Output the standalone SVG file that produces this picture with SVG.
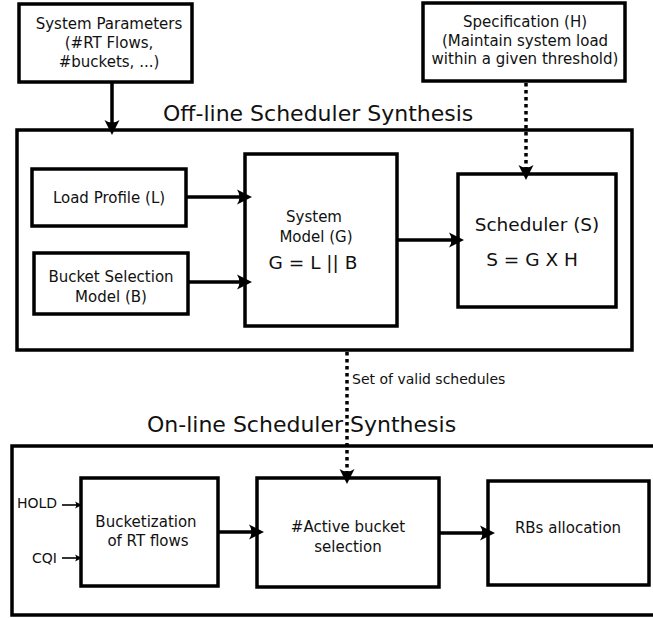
<svg xmlns="http://www.w3.org/2000/svg" width="653" height="618" viewBox="0 0 653 618">
  <style>
    .box { fill: #fff; stroke: #000; stroke-width: 3.5; }
    .frame { fill: none; stroke: #000; stroke-width: 3.5; }
    .t { font-family: "DejaVu Sans", sans-serif; font-size: 15px; fill: #111; text-anchor: middle; }
    .big { font-size: 18.5px; }
    .title { font-family: "DejaVu Sans", sans-serif; font-size: 22px; fill: #111; }
    .in { font-family: "DejaVu Sans", sans-serif; font-size: 14px; fill: #111; }
    .wire { fill: none; stroke: #000; stroke-width: 3.5; }
    .dot { fill: none; stroke: #000; stroke-width: 3.5; stroke-dasharray: 3.5 3.5; }
    .thin { fill: none; stroke: #000; stroke-width: 1.6; }
  </style>
  <defs>
    <marker id="head" markerUnits="userSpaceOnUse" orient="auto" viewBox="-16 -9 18 18" markerWidth="18" markerHeight="18" refX="-7" refY="0">
      <path d="M0,0 L-15,-7.5 Q-10,0 -15,7.5 Z" fill="#000"/>
    </marker>
    <marker id="small" markerUnits="userSpaceOnUse" orient="auto" viewBox="-8 -5 10 10" markerWidth="10" markerHeight="10" refX="-2" refY="0">
      <path d="M0,0 L-7,-3.5 Q-4.5,0 -7,3.5 Z" fill="#000"/>
    </marker>
  </defs>

  <!-- section frames and headings -->
  <rect class="frame" x="17" y="130" width="615" height="220"/>
  <text class="title" x="163" y="121">Off-line Scheduler Synthesis</text>
  <rect class="frame" x="12" y="446" width="700" height="169"/>
  <text class="title" x="147" y="432">On-line Scheduler Synthesis</text>

  <g id="sys-params">
    <rect class="box" x="19" y="4" width="173" height="78"/>
    <text class="t" x="109" y="29">System Parameters</text>
    <text class="t" x="109" y="48">(#RT Flows,</text>
    <text class="t" x="109" y="67">#buckets, ...)</text>
  </g>

  <g id="specification">
    <rect class="box" x="423" y="3" width="202" height="78"/>
    <text class="t" x="525" y="27">Specification (H)</text>
    <text class="t" x="525" y="46">(Maintain system load</text>
    <text class="t" x="525" y="64">within a given threshold)</text>
  </g>

  <g id="load-profile">
    <rect class="box" x="32" y="169" width="154" height="57"/>
    <text class="t" x="109" y="203">Load Profile (L)</text>
  </g>

  <g id="bucket-model">
    <rect class="box" x="34" y="253" width="154" height="61"/>
    <text class="t" x="111" y="282">Bucket Selection</text>
    <text class="t" x="111" y="302">Model (B)</text>
  </g>

  <g id="system-model">
    <rect class="box" x="245" y="154" width="152" height="172"/>
    <text class="t" x="314" y="222">System</text>
    <text class="t" x="316" y="242">Model (G)</text>
    <text class="t big" x="313" y="269">G = L || B</text>
  </g>

  <g id="scheduler">
    <rect class="box" x="458" y="174" width="158" height="133"/>
    <text class="t big" x="537" y="231">Scheduler (S)</text>
    <text class="t big" x="532" y="266">S = G X H</text>
  </g>

  <g id="bucketization">
    <rect class="box" x="81" y="478" width="137" height="108"/>
    <text class="t" x="146" y="527">Bucketization</text>
    <text class="t" x="148" y="546">of RT flows</text>
  </g>

  <g id="active-bucket">
    <rect class="box" x="257" y="478" width="182" height="109"/>
    <text class="t" x="348" y="532">#Active bucket</text>
    <text class="t" x="348" y="552">selection</text>
  </g>

  <g id="rbs-allocation">
    <rect class="box" x="488" y="481" width="161" height="104"/>
    <text class="t" x="568" y="533">RBs allocation</text>
  </g>

  <g id="inputs">
    <text class="in" x="17" y="508">HOLD</text>
    <text class="in" x="32" y="563">CQI</text>
  </g>

  <g id="connectors">
    <path class="wire" d="M112,82 V128" marker-end="url(#head)"/>
    <path class="dot" d="M526,83 V173" marker-end="url(#head)"/>
    <path class="wire" d="M186,197 H245" marker-end="url(#head)"/>
    <path class="wire" d="M188,282 H245" marker-end="url(#head)"/>
    <path class="wire" d="M397,240 H457" marker-end="url(#head)"/>
    <path class="dot" d="M347,352 V477" marker-end="url(#head)"/>
    <path class="wire" d="M218,532 H257" marker-end="url(#head)"/>
    <path class="wire" d="M439,533 H488" marker-end="url(#head)"/>
    <path class="thin" d="M62,505 H80" marker-end="url(#small)"/>
    <path class="thin" d="M62,558 H80" marker-end="url(#small)"/>
    <text class="in" x="352" y="384" font-size="15">Set of valid schedules</text>
  </g>
</svg>
